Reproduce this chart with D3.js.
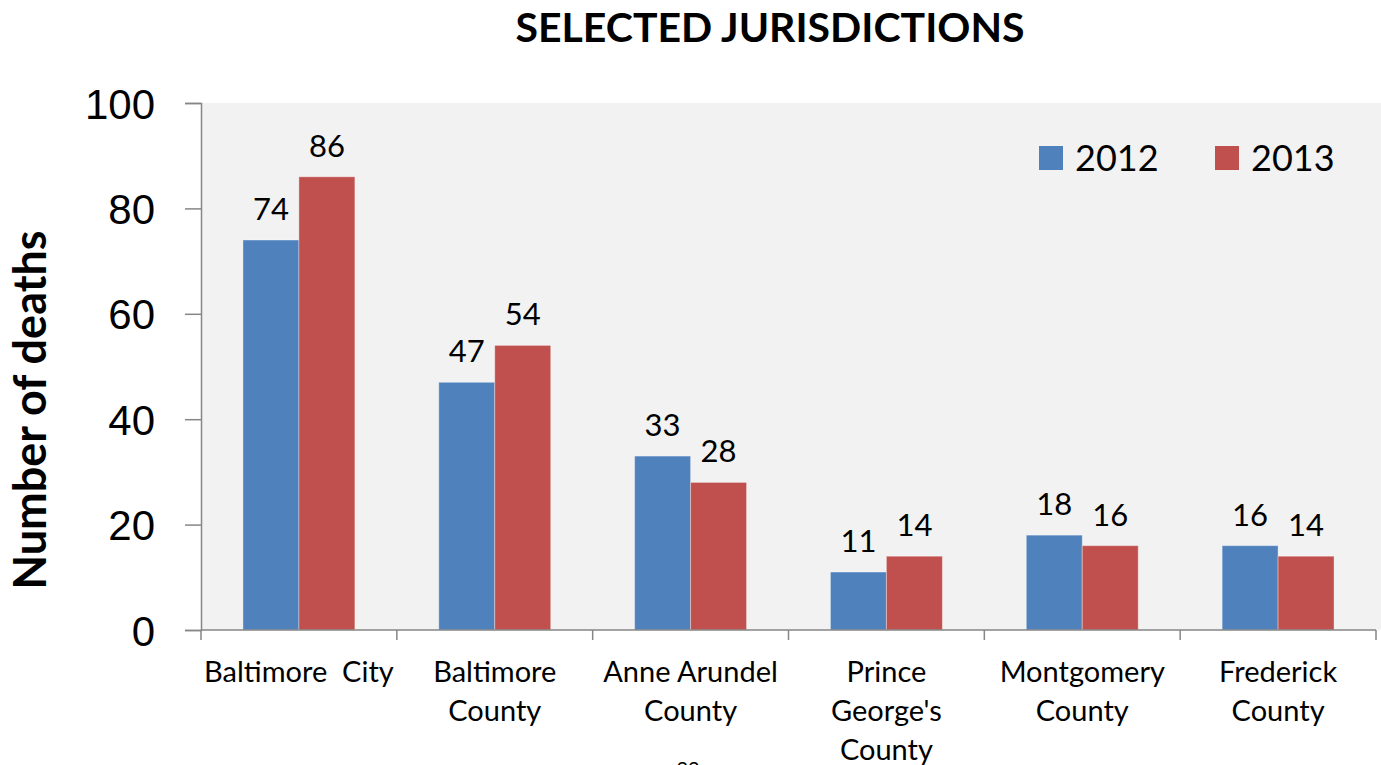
<!DOCTYPE html>
<html>
<head>
<meta charset="utf-8">
<script src="https://cdn.jsdelivr.net/npm/d3@7"></script>
<style>
  html, body { margin: 0; padding: 0; background: #fff; }
  svg { display: block; font-family: Lato, "Open Sans", sans-serif; }
  .axis path, .axis line { stroke: #868686; stroke-width: 1.5; }
  .axis text { fill: #000; }
</style>
</head>
<body>
<div id="chart"></div>
<script>
// ── Data ──────────────────────────────────────────────────────────────────
const categories = [
  ["Baltimore  City"],
  ["Baltimore", "County"],
  ["Anne Arundel", "County"],
  ["Prince", "George's", "County"],
  ["Montgomery", "County"],
  ["Frederick", "County"],
];
const years = ["2012", "2013"];
const deaths2012 = [74, 47, 33, 11, 18, 16];
const deaths2013 = [86, 54, 28, 14, 16, 14];
const yTicks = [0, 20, 40, 60, 80, 100];

const colors = { "2012": "#4f81bd", "2013": "#c0504d" };

// ── Layout ────────────────────────────────────────────────────────────────
const totalW = 1381, totalH = 765;
const margin = { top: 103, right: 3, bottom: 135, left: 201 };
const W = totalW - margin.left - margin.right;
const H = totalH - margin.top - margin.bottom;

const svg = d3.select("#chart").append("svg")
  .attr("width", totalW)
  .attr("height", totalH);

// title
svg.append("text")
  .attr("x", 770).attr("y", 42)
  .attr("text-anchor", "middle")
  .attr("font-weight", "bold").attr("font-size", 41)
  .text("SELECTED JURISDICTIONS");

// y axis title
svg.append("text")
  .attr("transform", "translate(46,410) rotate(-90)")
  .attr("text-anchor", "middle")
  .attr("font-weight", "bold").attr("font-size", 45)
  .text("Number of deaths");

const g = svg.append("g")
  .attr("transform", `translate(${margin.left},${margin.top})`);

// plot background
g.append("rect")
  .attr("width", W + margin.right).attr("height", H)
  .attr("fill", "#f2f2f2");

// ── Scales ────────────────────────────────────────────────────────────────
const catIdx = d3.range(categories.length);
const x0 = d3.scaleBand().domain(catIdx).range([0, W - 2]).padding(0);
const x1 = d3.scaleBand().domain(years).range([0, x0.bandwidth()])
  .paddingInner(0).paddingOuter(0.75);
const y = d3.scaleLinear().domain([0, 100]).range([H, 0]);

// ── Bars ──────────────────────────────────────────────────────────────────
const rows = catIdx.map(i => [
  { year: "2012", value: deaths2012[i] },
  { year: "2013", value: deaths2013[i] },
]);

const groups = g.selectAll("g.cat")
  .data(rows)
  .join("g")
  .attr("class", "cat")
  .attr("transform", (d, i) => `translate(${x0(i)},0)`);

groups.selectAll("rect")
  .data(d => d)
  .join("rect")
  .attr("x", d => x1(d.year))
  .attr("y", d => y(d.value))
  .attr("width", x1.bandwidth())
  .attr("height", d => H - y(d.value))
  .attr("fill", d => colors[d.year])
  .attr("stroke", "rgba(255,255,255,0.35)")
  .attr("stroke-width", 1);

groups.selectAll("text.val")
  .data(d => d)
  .join("text")
  .attr("class", "val")
  .attr("x", d => x1(d.year) + x1.bandwidth() / 2)
  .attr("y", d => y(d.value) - 20)
  .attr("text-anchor", "middle")
  .attr("font-size", 31)
  .text(d => d.value);

// ── Axes ──────────────────────────────────────────────────────────────────
const yAxis = g.append("g").attr("class", "axis")
  .call(d3.axisLeft(y).tickValues(yTicks).tickSize(16).tickPadding(30));
yAxis.selectAll("text").attr("font-size", 42).attr("dy", "0.36em");

const boundaries = catIdx.map(i => x0(i)).concat([x0.range()[1]]);
const xAxis = g.append("g").attr("class", "axis")
  .attr("transform", `translate(0,${H})`);
xAxis.append("line")
  .attr("x1", 0).attr("x2", x0.range()[1]);
xAxis.selectAll("line.tick")
  .data(boundaries)
  .join("line")
  .attr("class", "tick")
  .attr("x1", d => d).attr("x2", d => d)
  .attr("y1", 0).attr("y2", 10);

// category labels (multi-line)
const labels = xAxis.selectAll("text.cat")
  .data(categories)
  .join("text")
  .attr("class", "cat")
  .attr("font-size", 29)
  .attr("text-anchor", "middle")
  .style("white-space", "pre")
  .attr("transform", (d, i) => `translate(${x0(i) + x0.bandwidth() / 2},0)`);
labels.selectAll("tspan")
  .data(d => d)
  .join("tspan")
  .attr("x", 0)
  .attr("y", (d, i) => 52 + i * 39)
  .text(d => d);

// ── Legend ────────────────────────────────────────────────────────────────
const legend = svg.append("g").attr("transform", "translate(1039,146)");
years.forEach((yr, i) => {
  const item = legend.append("g").attr("transform", `translate(${i * 176},0)`);
  item.append("rect")
    .attr("width", 24).attr("height", 24)
    .attr("fill", colors[yr]);
  item.append("text")
    .attr("x", 36).attr("y", 25)
    .attr("font-size", 36)
    .text(yr);
});

// page number, cut off at the bottom edge as in the source page
svg.append("text")
  .attr("x", 688).attr("y", 776)
  .attr("text-anchor", "middle")
  .attr("font-size", 20)
  .text("22");
</script>
</body>
</html>
